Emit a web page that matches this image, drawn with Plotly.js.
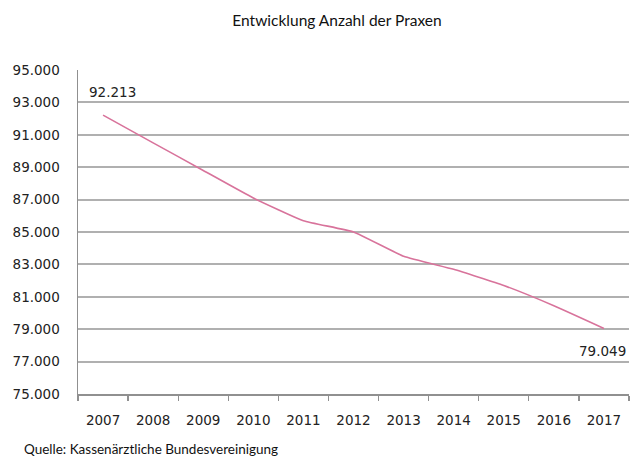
<!DOCTYPE html>
<html><head><meta charset="utf-8">
<script src="https://cdn.plot.ly/plotly-3.0.1.min.js"></script>
<style>body{margin:0;background:#fff}#c{width:637px;height:459px}</style>
</head><body><div id="c"></div>
<script>
const years = ['2007','2008','2009','2010','2011','2012','2013','2014','2015','2016','2017'];
const praxen = [92213, 90500, 88800, 87100, 85700, 85000, 83500, 82700, 81700, 80450, 79049];
const titleText = 'Entwicklung Anzahl der Praxen';
const sourceText = 'Quelle: Kassenärztliche Bundesvereinigung';

const fmt = v => v.toLocaleString('de-DE');
const tf = {family: '"DejaVu Sans", Verdana, sans-serif', size: 13.5, color: '#222'};
const last = years.length - 1;

Plotly.newPlot('c', [{
  x: years, y: praxen, type: 'scatter', mode: 'lines',
  line: {color: '#d8739b', width: 1.6, shape: 'spline', smoothing: 0.4},
  hoverinfo: 'skip'
}], {
  width: 637, height: 459,
  margin: {l: 78, r: 8, t: 70, b: 65},
  paper_bgcolor: '#fff', plot_bgcolor: '#fff',
  separators: ',.',
  showlegend: false,
  title: {text: titleText, x: 337 / 637, xanchor: 'center', y: 0.955, yanchor: 'middle',
          font: {family: 'Lato, "Open Sans", sans-serif', size: 15.5, color: '#111'}},
  xaxis: {type: 'category', range: [-0.5, 10.5], tickson: 'boundaries',
          ticks: 'outside', ticklen: 5, tickcolor: '#909090', tickwidth: 1.2,
          showline: true, linecolor: '#909090', linewidth: 1.5,
          showgrid: false, ticklabelstandoff: 13, tickfont: tf},
  yaxis: {range: [75000, 95000], dtick: 2000, tick0: 75000, tickformat: ',.0f',
          showline: true, linecolor: '#909090', linewidth: 1.5,
          showgrid: true, gridcolor: '#b0b0b0', gridwidth: 2,
          ticks: '', ticklabelstandoff: 14, zeroline: false, tickfont: tf},
  annotations: [
    {x: 0, y: praxen[0], xref: 'x', yref: 'y', text: fmt(praxen[0]), showarrow: false,
     xshift: 9, yshift: 23, font: tf},
    {x: last, y: praxen[last], xref: 'x', yref: 'y', text: fmt(praxen[last]), showarrow: false,
     xanchor: 'left', xshift: -27, yshift: -23, font: tf},
    {x: (22 - 78) / 551, y: 0, xref: 'paper', yref: 'paper', text: sourceText, showarrow: false,
     xanchor: 'left', yanchor: 'middle', yshift: -55,
     font: {family: 'Lato, "Open Sans", sans-serif', size: 13.5, color: '#111'}}
  ]
}, {displayModeBar: false, staticPlot: true});
</script></body></html>
